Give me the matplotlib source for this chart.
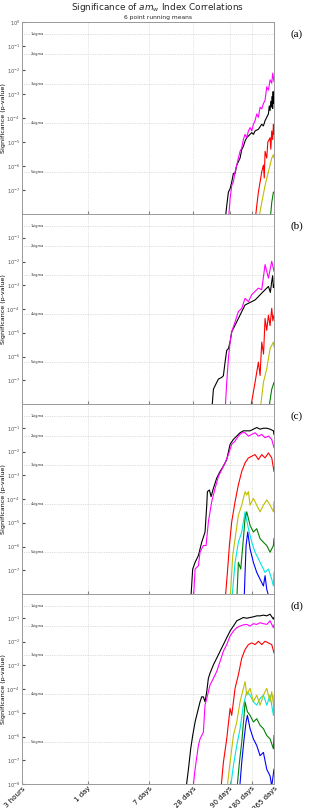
import numpy as np
import matplotlib
matplotlib.use('Agg')
import matplotlib.pyplot as plt

# x in days, y as log10(p-value)

# panel (a)
a_black_d = [77.5, 81.7, 86.1, 90.8, 95.7, 100.9, 106.4, 112.2, 118.2, 124.6, 131.4, 138.5, 146.0, 154.0, 162.3,
             180.4, 190.1, 200.4, 222.7, 247.6, 261.0, 275.1, 290.1, 305.8, 314, 322.3, 330, 339.8, 345, 350, 355, 360, 365]
a_black_p = [-8.3, -7.66, -7.09, -6.95, -6.67, -6.31, -6.31, -5.96, -5.82, -5.67, -5.32, -5.18, -4.96, -4.82, -4.75,
             -4.61, -4.68, -4.54, -4.47, -4.26, -4.33, -4.11, -3.97, -3.83, -3.5, -3.69, -3.3, -3.55, -3.1, -3.6, -2.9, -3.4, -3.0]
a_mag_d = [86.1, 90.8, 95.7, 100.9, 106.4, 112.2, 118.2, 124.6, 131.4, 138.5, 146.0, 154.0, 162.3, 171.1, 180.4,
           190.1, 200.4, 211.3, 222.7, 234.9, 247.6, 261.0, 275.1, 290.1, 305.8, 322.3, 339.8, 350.8, 365]
a_mag_p = [-8.3, -7.38, -6.81, -6.67, -6.24, -5.96, -5.67, -5.39, -5.25, -4.89, -4.68, -4.82, -4.54, -4.40, -4.54,
           -4.26, -4.11, -3.83, -3.97, -3.55, -3.62, -3.40, -3.26, -2.70, -2.84, -2.41, -2.55, -2.13, -2.48]
a_red_d = [200.4, 211.3, 222.7, 234.9, 247.6, 261.0, 268, 275.1, 290.1, 300, 305.8, 322.3, 330, 339.8, 350, 358.3, 365]
a_red_p = [-8.3, -7.66, -7.09, -6.67, -6.24, -5.96, -6.5, -5.39, -5.67, -5.0, -4.96, -4.82, -5.3, -4.54, -4.9, -4.26, -4.68]
a_yel_d = [222.7, 247.6, 275.1, 305.8, 322.3, 339.8, 358.3, 365]
a_yel_p = [-8.3, -7.52, -6.81, -6.24, -5.96, -5.67, -5.53, -5.67]
a_grn_d = [322.3, 339.8, 358.3, 365]
a_grn_p = [-8.3, -7.52, -7.09, -7.09]

# panel (b)
b_black_d = [50.8, 53.6, 56.5, 62.8, 69.7, 73.5, 77.5, 81.7, 86.1, 90.8, 95.7, 106.4, 118.2, 131.4, 146.0, 162.3,
             180.4, 200.4, 222.7, 247.6, 275.1, 305.8, 325, 339.8, 350, 358, 365]
b_black_p = [-8.3, -7.38, -7.23, -6.95, -6.88, -6.81, -6.24, -5.74, -5.67, -5.39, -4.96, -4.68, -4.40, -4.11, -3.83, -3.76,
             -3.69, -3.62, -3.48, -3.33, -3.19, -3.05, -3.3, -2.84, -2.6, -3.1, -3.0]
b_mag_d = [77.5, 81.7, 86.1, 90.8, 95.7, 106.4, 118.2, 131.4, 146.0, 162.3, 180.4, 200.4, 222.7, 247.6, 275.1, 305.8, 339.8, 365]
b_mag_p = [-8.3, -7.09, -6.10, -5.39, -4.96, -4.54, -4.11, -3.97, -3.55, -3.69, -3.40, -3.26, -3.12, -3.19, -2.13, -2.70, -1.99, -2.41]
b_red_d = [171.1, 200.4, 222.7, 235, 247.6, 262, 275.1, 290, 305.8, 322, 339.8, 352, 365]
b_red_p = [-8.3, -7.09, -6.24, -6.8, -5.39, -5.9, -4.40, -4.9, -4.26, -4.7, -3.97, -4.5, -4.26]
b_yel_d = [234.9, 261.0, 290.1, 322.3, 358.3, 365]
b_yel_p = [-8.3, -7.09, -6.52, -5.67, -5.39, -5.6]
b_grn_d = [305.8, 339.8, 365]
b_grn_p = [-8.3, -7.38, -7.09]

# panel (c)
c_black_d = [26.1, 27.8, 30.0, 33.3, 37.0, 41.1, 43.4, 44.3, 47.2, 49.8, 53.6, 59.5, 66.2, 73.5, 81.7, 90.8, 100.9,
             112.2, 124.6, 138.5, 154.0, 171.1, 190.1, 211.3, 234.9, 261.0, 290.1, 322.3, 358.3, 365]
c_black_p = [-8.3, -6.95, -6.67, -6.38, -5.82, -5.39, -4.26, -3.69, -3.62, -3.90, -3.55, -3.12, -2.84, -2.62, -2.34, -1.70,
             -1.49, -1.35, -1.21, -1.13, -1.13, -1.13, -1.06, -0.99, -1.06, -1.02, -1.02, -1.06, -1.13, -1.28]
c_mag_d = [28.4, 30.0, 33.3, 35.1, 39.0, 42.5, 45.7, 50.8, 56.5, 62.8, 69.7, 77.5, 86.1, 95.7, 106.4, 118.2, 131.4,
           146.0, 162.3, 180.4, 200.4, 222.7, 247.6, 275.1, 305.8, 339.8, 365]
c_mag_p = [-8.3, -6.95, -6.81, -6.24, -5.96, -5.96, -4.96, -4.11, -3.55, -3.05, -2.77, -2.48, -2.13, -1.70, -1.56, -1.35,
           -1.21, -1.21, -1.35, -1.28, -1.21, -1.35, -1.28, -1.42, -1.35, -1.49, -1.84]
c_red_d = [77.5, 83.5, 88.9, 95.7, 106.4, 118.2, 131.4, 146.0, 162.3, 180.4, 200.4, 222.7, 247.6, 275.1, 305.8, 339.8, 365]
c_red_p = [-8.3, -7.09, -5.96, -4.96, -4.11, -3.40, -2.84, -2.48, -2.27, -2.20, -2.13, -2.34, -2.13, -2.27, -2.06, -2.27, -2.84]
c_yel_d = [90.8, 98.8, 106.4, 118.2, 131.4, 146.0, 154.0, 162.3, 171.1, 190.1, 211.3, 234.9, 261.0, 290.1, 322.3, 358.3, 365]
c_yel_p = [-8.3, -6.38, -5.67, -4.68, -4.26, -3.69, -3.83, -3.69, -4.26, -3.97, -4.26, -4.54, -4.26, -4.04, -4.26, -4.54, -4.11]
c_cyan_d = [95.7, 106.4, 118.2, 131.4, 146.0, 162.3, 180.4, 200.4, 222.7, 247.6, 275.1, 305.8, 339.8, 358.3, 365]
c_cyan_p = [-8.3, -6.67, -5.82, -5.39, -4.54, -5.25, -5.82, -6.24, -6.52, -6.81, -7.09, -6.95, -7.38, -7.66, -7.09]
c_grn_d = [112.2, 118.2, 127.3, 138.5, 146.0, 154.0, 171.1, 190.1, 211.3, 234.9, 261.0, 290.1, 322.3, 358.3, 365]
c_grn_p = [-8.3, -6.67, -6.95, -5.67, -4.82, -4.54, -5.11, -5.39, -5.25, -5.67, -5.82, -5.96, -6.24, -5.96, -5.67]
c_blue_d = [141.5, 150.7, 158.9, 171.1, 190.1, 211.3, 234.9, 261.0, 275.1, 290.1, 322.3]
c_blue_p = [-8.3, -5.96, -5.39, -6.10, -6.67, -7.09, -7.38, -7.66, -7.23, -7.80, -8.3]

# panel (d)
d_black_d = [22.3, 24.3, 26.1, 27.8, 30.0, 33.3, 35.1, 37.0, 39.0, 41.1, 43.4, 45.7, 48.2, 53.6, 59.5, 66.2, 73.5,
             81.7, 90.8, 100.9, 112.2, 124.6, 138.5, 154.0, 171.1, 190.1, 211.3, 234.9, 261.0, 290.1, 322.3, 358.3, 365]
d_black_p = [-8.3, -7.38, -6.52, -5.96, -5.39, -4.82, -4.54, -4.33, -4.33, -4.54, -4.11, -3.55, -3.33, -2.98, -2.70, -2.41,
             -2.13, -1.84, -1.56, -1.35, -1.13, -1.06, -0.99, -1.02, -0.99, -0.96, -0.92, -0.92, -0.89, -0.92, -0.85, -1.06, -0.99]
d_mag_d = [27.8, 30.0, 33.3, 35.1, 39.0, 41.1, 43.4, 48.2, 53.6, 59.5, 66.2, 73.5, 81.7, 90.8, 100.9, 112.2, 124.6,
           138.5, 154.0, 171.1, 190.1, 211.3, 234.9, 261.0, 290.1, 322.3, 358.3, 365]
d_mag_p = [-8.3, -7.38, -6.38, -6.10, -5.82, -4.68, -4.40, -3.83, -3.55, -3.26, -2.84, -2.41, -2.13, -1.77, -1.56, -1.42,
           -1.35, -1.30, -1.28, -1.35, -1.25, -1.28, -1.21, -1.25, -1.28, -1.13, -1.42, -1.30]
d_red_d = [67.6, 73.5, 81.7, 90.8, 95.7, 106.4, 118.2, 131.4, 146.0, 162.3, 180.4, 200.4, 222.7, 247.6, 275.1, 305.8, 339.8, 365]
d_red_p = [-8.3, -7.09, -6.10, -4.82, -5.11, -3.97, -3.40, -2.70, -2.34, -2.13, -2.06, -2.13, -1.99, -2.13, -1.99, -2.06, -2.13, -2.48]
d_yel_d = [81.7, 90.8, 100.9, 112.2, 124.6, 138.5, 146.0, 154.0, 171.1, 190.1, 211.3, 234.9, 261.0, 290.1, 322.3, 339.8, 365]
d_yel_p = [-8.3, -7.09, -5.96, -5.39, -4.54, -3.97, -3.69, -4.26, -3.97, -4.54, -4.26, -4.68, -4.26, -3.97, -4.54, -4.11, -4.82]
d_cyan_d = [90.8, 100.9, 112.2, 124.6, 138.5, 154.0, 171.1, 190.1, 211.3, 234.9, 261.0, 290.1, 322.3, 358.3, 365]
d_cyan_p = [-8.3, -7.23, -6.38, -5.67, -4.68, -4.11, -4.26, -4.54, -4.68, -4.40, -4.26, -4.68, -4.26, -5.11, -4.26]
d_grn_d = [112.2, 122.1, 131.4, 141.5, 146.0, 157.2, 171.1, 190.1, 211.3, 234.9, 261.0, 290.1, 322.3, 358.3, 365]
d_grn_p = [-8.3, -7.09, -6.24, -5.11, -4.54, -4.96, -5.11, -5.39, -5.25, -5.53, -5.67, -5.96, -6.10, -6.52, -5.96]
d_blue_d = [122.1, 131.4, 141.5, 150.7, 157.2, 171.1, 190.1, 211.3, 234.9, 261.0, 290.1, 322.3, 339.8, 365]
d_blue_p = [-8.3, -7.09, -6.10, -5.39, -5.11, -5.67, -6.10, -6.38, -6.81, -6.67, -7.38, -7.66, -8.09, -7.38]

sigma_names = ['1sigma', '2sigma', '3sigma', '4sigma', '5sigma']
sigma_p = [0.3173, 0.0455, 0.0027, 6.3e-5, 5.7e-7]

tick_days = [0.125, 1, 7, 28, 90, 180, 365]
tick_labels = ['3 hours', '1 day', '7 days', '28 days', '90 days', '180 days', '365 days']
panel_names = ['(a)', '(b)', '(c)', '(d)']

col = {'k': 'black', 'm': (1, 0, 1), 'r': (1, 0, 0), 'y': (0.75, 0.75, 0),
       'c': (0, 0.9, 0.9), 'g': (0, 0.5, 0), 'b': (0, 0, 1)}

panels = [
    [('k', a_black_d, a_black_p), ('m', a_mag_d, a_mag_p), ('r', a_red_d, a_red_p),
     ('y', a_yel_d, a_yel_p), ('g', a_grn_d, a_grn_p)],
    [('k', b_black_d, b_black_p), ('m', b_mag_d, b_mag_p), ('r', b_red_d, b_red_p),
     ('y', b_yel_d, b_yel_p), ('g', b_grn_d, b_grn_p)],
    [('k', c_black_d, c_black_p), ('m', c_mag_d, c_mag_p), ('r', c_red_d, c_red_p),
     ('y', c_yel_d, c_yel_p), ('c', c_cyan_d, c_cyan_p), ('g', c_grn_d, c_grn_p), ('b', c_blue_d, c_blue_p)],
    [('k', d_black_d, d_black_p), ('m', d_mag_d, d_mag_p), ('r', d_red_d, d_red_p),
     ('c', d_cyan_d, d_cyan_p), ('g', d_grn_d, d_grn_p), ('y', d_yel_d, d_yel_p), ('b', d_blue_d, d_blue_p)],
]

fig = plt.figure(figsize=(3.09, 8.08), dpi=100)
fig.patch.set_facecolor('white')

left, width = 22 / 309, 252 / 309
tops = [22, 214, 404, 594]
bots = [214, 404, 594, 784]

for i in range(4):
    ax = fig.add_axes([left, 1 - bots[i] / 808, width, (bots[i] - tops[i]) / 808])
    for c, d, p in panels[i]:
        ax.plot(d, 10 ** np.array(p), color=col[c], lw=0.8)
    ax.set_xscale('log')
    ax.set_yscale('log')
    ax.set_xlim(0.125, 365)
    ax.set_ylim(1e-8, 1)
    ax.minorticks_off()
    for s, sp in zip(sigma_names, sigma_p):
        ax.axhline(sp, color='0.75', lw=0.5, ls=(0, (1, 1.5)), zorder=0)
        ax.text(0.165, sp, s, fontsize=2.6, va='center', ha='left', color='0.2',
                bbox=dict(facecolor='white', edgecolor='none', pad=0.3), zorder=1)
    for td in tick_days:
        ax.axvline(td, color='0.8', lw=0.5, ls=(0, (1, 1.5)), zorder=0)
    if i == 0:
        yt = [10.0 ** e for e in range(-7, 1)]
    elif i < 3:
        yt = [10.0 ** e for e in range(-7, 0)]
    else:
        yt = [10.0 ** e for e in range(-8, 0)]
    ax.set_yticks(yt)
    ax.set_xticks(tick_days)
    if i == 3:
        ax.set_xticklabels(tick_labels, rotation=45, ha='right', va='top', fontsize=5.0,
                           rotation_mode='anchor')
    else:
        ax.set_xticklabels([])
    ax.tick_params(axis='y', labelsize=3.6, length=2, direction='in', pad=1.5, colors='0.3')
    ax.tick_params(axis='x', length=2, direction='in', pad=1, color='0.5')
    ax.set_ylabel('Significance (p-value)', fontsize=4.6)
    ax.yaxis.set_label_coords(-0.064, 0.5)
    for sp in ax.spines.values():
        sp.set_color('0.6')
        sp.set_linewidth(0.7)
    fig.text(297 / 309, 1 - (tops[i] + 12) / 808, panel_names[i], fontsize=8,
             family='Liberation Serif', ha='center', va='center')

fig.text(158 / 309, 1 - 8 / 808, 'Significance of $\\it{am_w}$ Index Correlations',
         fontsize=6.4, ha='center', va='center', color='0.15')
fig.text(158 / 309, 1 - 17 / 808, '6 point running means', fontsize=4.3, ha='center', va='center', color='0.15')

fig.savefig('out.png', dpi=100)
